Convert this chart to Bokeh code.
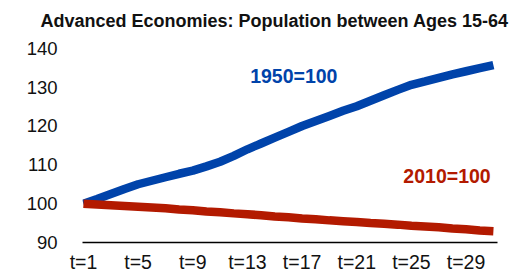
from bokeh.plotting import figure
from bokeh.models import FixedTicker, Label
from bokeh.embed import file_html
from bokeh.resources import INLINE

t = list(range(1, 32))
base_1950 = [100.0, 101.2, 102.5, 103.8, 105.0, 105.9, 106.8, 107.7, 108.5, 109.6,
             110.8, 112.3, 114.0, 115.5, 117.0, 118.5, 120.0, 121.3, 122.6, 123.9,
             125.1, 126.5, 127.9, 129.3, 130.6, 131.5, 132.4, 133.3, 134.1, 134.9, 135.7]
base_2010 = [100.0, 99.8, 99.6, 99.4, 99.2, 99.0, 98.8, 98.5, 98.3, 98.0,
             97.8, 97.5, 97.3, 97.0, 96.7, 96.5, 96.2, 96.0, 95.7, 95.5,
             95.3, 95.0, 94.8, 94.6, 94.3, 94.1, 93.9, 93.6, 93.4, 93.1, 92.9]
x_ticks = [1, 5, 9, 13, 17, 21, 25, 29]
x_tick_labels = ["t=1", "t=5", "t=9", "t=13", "t=17", "t=21", "t=25", "t=29"]
y_ticks = [90, 100, 110, 120, 130, 140]
title_text = "Advanced Economies: Population between Ages 15-64"
label_1950 = "1950=100"
label_2010 = "2010=100"

FONT = "Liberation Sans"
BLUE = "#0043AA"
RED = "#B31A00"

p = figure(width=518, height=275, x_range=(0.93, 31.3), y_range=(90, 141.5),
           output_backend="svg", toolbar_location=None,
           min_border_left=82, min_border_right=21, min_border_top=42, min_border_bottom=31)

p.title.text = title_text
p.title.text_font = FONT
p.title.text_font_size = "18px"
p.title.text_font_style = "bold"
p.title.text_color = "#111111"
p.title.align = "left"
p.title.offset = -42
p.title.vertical_align = "top"
p.title.standoff = 20

p.line(t, base_1950, line_color=BLUE, line_width=8.5)
p.line(t, base_2010, line_color=RED, line_width=8.5)

p.add_layout(Label(x=13.2, y=132.9, text=label_1950, text_font=FONT, text_font_size="19.5px",
                   text_font_style="bold", text_color=BLUE, text_align="left",
                   text_baseline="middle"))
p.add_layout(Label(x=30.8, y=107.2, text=label_2010, text_font=FONT, text_font_size="19.5px",
                   text_font_style="bold", text_color=RED, text_align="right",
                   text_baseline="middle"))

p.xgrid.visible = False
p.ygrid.visible = False
p.outline_line_color = None

xa = p.xaxis[0]
xa.ticker = FixedTicker(ticks=x_ticks)
xa.major_label_overrides = {k: v for k, v in zip(x_ticks, x_tick_labels)}
xa.axis_line_color = "black"
xa.axis_line_width = 1.5
xa.major_tick_line_color = None
xa.minor_tick_line_color = None
xa.major_tick_out = 0
xa.major_tick_in = 0
xa.major_label_standoff = 8
xa.major_label_text_font = FONT
xa.major_label_text_font_size = "19.5px"
xa.major_label_text_color = "#111111"

ya = p.yaxis[0]
ya.ticker = FixedTicker(ticks=y_ticks)
ya.axis_line_color = None
ya.major_tick_line_color = None
ya.minor_tick_line_color = None
ya.major_tick_out = 0
ya.major_tick_in = 0
ya.major_label_standoff = 25
ya.major_label_text_font = FONT
ya.major_label_text_font_size = "18.5px"
ya.major_label_text_color = "#111111"

open("out.html", "w").write(file_html(p, INLINE))
